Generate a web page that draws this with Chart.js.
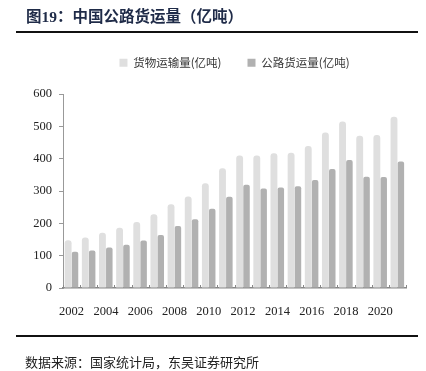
<!DOCTYPE html>
<html>
<head>
<meta charset="utf-8">
<script src="https://cdn.jsdelivr.net/npm/chart.js@4/dist/chart.umd.min.js"></script>
<style>
  html, body { margin: 0; padding: 0; background: #ffffff; }
  #wrap { position: relative; width: 426px; height: 371px; overflow: hidden; }
  #c { position: absolute; left: 0; top: 0; }
  .title { position: absolute; left: 26px; top: 7px; font-family: "Liberation Serif", "Noto Sans CJK SC", serif; font-weight: bold; font-size: 15.5px; color: #1f2b48; white-space: nowrap; line-height: 20px; }
  .rule { position: absolute; left: 16px; width: 402px; height: 2px; background: #111; }
  .foot { position: absolute; left: 25px; top: 353px; font-family: "Noto Sans CJK SC", sans-serif; font-size: 13px; color: #222; white-space: nowrap; line-height: 17px; }
</style>
</head>
<body>
<div id="wrap">
  <canvas id="c" width="426" height="371"></canvas>
  <div class="title">图19：中国公路货运量（亿吨）</div>
  <div class="rule" style="top:31px"></div>
  <div class="rule" style="top:335px"></div>
  <div class="foot">数据来源：国家统计局，东吴证券研究所</div>
</div>
<script>
const years = ['2002','2003','2004','2005','2006','2007','2008','2009','2010','2011','2012','2013','2014','2015','2016','2017','2018','2019','2020','2021'];
const totalFreight = [148, 156, 171, 186, 204, 228, 259, 283, 324, 370, 410, 410, 417, 418, 439, 481, 515, 471, 473, 530];
const roadFreight = [112, 116, 125, 134, 147, 164, 192, 213, 245, 282, 319, 308, 311, 315, 334, 368, 396, 344, 343, 391];
const seriesNames = ['货物运输量(亿吨)', '公路货运量(亿吨)'];
const yTicks = [0, 100, 200, 300, 400, 500, 600];

const legendMargin = {
  id: 'legendMargin',
  beforeInit(chart) {
    const orig = chart.legend.fit;
    chart.legend.fit = function () {
      orig.bind(chart.legend)();
      this.height += 15.5;
    };
  }
};

const innerTicks = {
  id: 'innerTicks',
  afterDatasetsDraw(chart) {
    const x = chart.scales.x, ctx = chart.ctx;
    const bottom = chart.chartArea.bottom;
    ctx.save();
    ctx.strokeStyle = '#888';
    ctx.lineWidth = 1;
    const n = years.length;
    for (let i = 0; i <= n; i++) {
      let px;
      if (i === 0) px = x.getPixelForValue(0) - (x.getPixelForValue(1) - x.getPixelForValue(0)) / 2;
      else if (i === n) px = x.getPixelForValue(n - 1) + (x.getPixelForValue(n - 1) - x.getPixelForValue(n - 2)) / 2;
      else px = (x.getPixelForValue(i - 1) + x.getPixelForValue(i)) / 2;
      px = Math.round(px) + 0.5;
      ctx.beginPath();
      ctx.moveTo(px, bottom);
      ctx.lineTo(px, bottom - 3);
      ctx.stroke();
    }
    ctx.restore();
  }
};

new Chart(document.getElementById('c'), {
  type: 'bar',
  data: {
    labels: years,
    datasets: [
      { label: seriesNames[0], data: totalFreight, backgroundColor: '#dfdfdf', borderRadius: { topLeft: 3, topRight: 3 }, borderSkipped: 'start', categoryPercentage: 0.8, barPercentage: 1.0 },
      { label: seriesNames[1], data: roadFreight, backgroundColor: '#b1b1b1', borderRadius: { topLeft: 2, topRight: 2 }, borderSkipped: 'start', categoryPercentage: 0.8, barPercentage: 0.95 }
    ]
  },
  options: {
    responsive: false,
    animation: false,
    devicePixelRatio: 1,
    layout: { padding: { top: 31, left: 0, right: 20, bottom: 44 } },
    plugins: {
      tooltip: { enabled: false },
      legend: {
        position: 'top',
        fullSize: false,
        align: 'center',
        labels: {
          boxWidth: 8, boxHeight: 8, padding: 26,
          color: '#333',
          font: { family: '"Noto Sans CJK SC", sans-serif', size: 11.5 }
        }
      }
    },
    scales: {
      x: {
        offset: true,
        grid: { display: false },
        border: { display: true, color: '#888', width: 1.5 },
        ticks: {
          autoSkip: false, maxRotation: 0, minRotation: 0, padding: 8,
          color: '#222',
          font: { family: '"Liberation Serif", serif', size: 12.5 },
          callback: function (v, i) { return i % 2 === 0 ? years[i] : ''; }
        }
      },
      y: {
        min: 0, max: 600,
        afterBuildTicks: (s) => { s.ticks = yTicks.map(v => ({ value: v })); },
        afterFit: (s) => { s.width = 63; },
        grid: { display: true, drawOnChartArea: false, drawTicks: true, tickLength: 4, color: '#999' },
        border: { display: true, color: '#999', width: 1 },
        ticks: {
          padding: 7, color: '#222',
          font: { family: '"Liberation Serif", serif', size: 12.5 }
        }
      }
    }
  },
  plugins: [legendMargin, innerTicks]
});
</script>
</body>
</html>
